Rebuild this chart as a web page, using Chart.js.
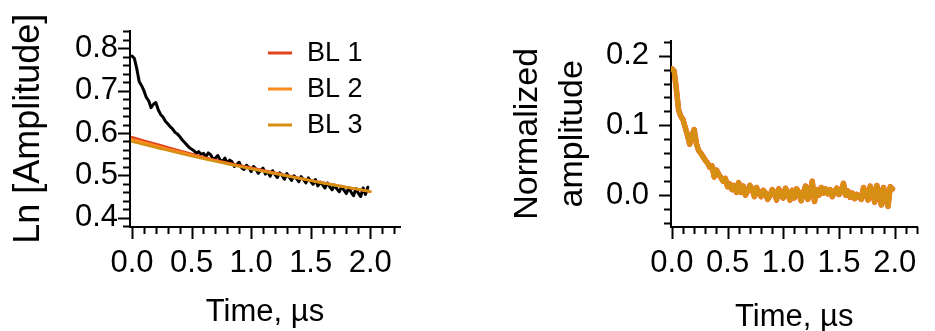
<!DOCTYPE html>
<html>
<head>
<meta charset="utf-8">
<script src="https://cdn.jsdelivr.net/npm/chart.js@4"></script>
<style>
  body { margin: 0; background: #fff; }
  #c1 { position: absolute; left: 0; top: 0; }
  #c2 { position: absolute; left: 500px; top: 0; }
</style>
</head>
<body>
<canvas id="c1" width="420" height="331"></canvas>
<canvas id="c2" width="435" height="331"></canvas>
<script>
/* Ln amplitude decay with baseline fits, and normalized amplitude */

// time axis (µs), one point every 0.02
const time = [
  0.00, 0.02, 0.04, 0.06, 0.08, 0.10, 0.12, 0.14, 0.16, 0.18,
  0.20, 0.22, 0.24, 0.26, 0.28, 0.30, 0.32, 0.34, 0.36, 0.38,
  0.40, 0.42, 0.44, 0.46, 0.48, 0.50, 0.52, 0.54, 0.56, 0.58,
  0.60, 0.62, 0.64, 0.66, 0.68, 0.70, 0.72, 0.74, 0.76, 0.78,
  0.80, 0.82, 0.84, 0.86, 0.88, 0.90, 0.92, 0.94, 0.96, 0.98,
  1.00, 1.02, 1.04, 1.06, 1.08, 1.10, 1.12, 1.14, 1.16, 1.18,
  1.20, 1.22, 1.24, 1.26, 1.28, 1.30, 1.32, 1.34, 1.36, 1.38,
  1.40, 1.42, 1.44, 1.46, 1.48, 1.50, 1.52, 1.54, 1.56, 1.58,
  1.60, 1.62, 1.64, 1.66, 1.68, 1.70, 1.72, 1.74, 1.76, 1.78,
  1.80, 1.82, 1.84, 1.86, 1.88, 1.90, 1.92, 1.94, 1.96, 1.98
];

// measured ln(amplitude), black trace
const lnAmp = [
  0.782, 0.776, 0.752, 0.722, 0.712, 0.700, 0.684, 0.676, 0.660, 0.668,
  0.672, 0.655, 0.644, 0.638, 0.628, 0.622, 0.615, 0.610, 0.602, 0.598,
  0.592, 0.584, 0.578, 0.572, 0.566, 0.562, 0.558, 0.552, 0.556, 0.550,
  0.552, 0.544, 0.553, 0.549, 0.538, 0.541, 0.547, 0.536, 0.533, 0.541,
  0.528, 0.536, 0.532, 0.521, 0.526, 0.531, 0.518, 0.514, 0.524, 0.519,
  0.509, 0.521, 0.515, 0.505, 0.512, 0.517, 0.503, 0.509, 0.498, 0.511,
  0.502, 0.495, 0.506, 0.500, 0.491, 0.504, 0.496, 0.488, 0.499, 0.493,
  0.485, 0.497, 0.490, 0.482, 0.494, 0.486, 0.479, 0.490, 0.475, 0.484,
  0.478, 0.470, 0.482, 0.473, 0.466, 0.477, 0.468, 0.461, 0.474, 0.465,
  0.457, 0.471, 0.460, 0.452, 0.469, 0.458, 0.450, 0.470, 0.455, 0.472
];

// baseline fits
const fitTime = [0.0, 0.2, 0.4, 0.6, 0.8, 1.0, 1.2, 1.4, 1.6, 1.8, 2.0];
const fitBL1 = [0.590, 0.574, 0.558, 0.543, 0.530, 0.518, 0.506, 0.494, 0.483, 0.472, 0.461];
const fitBL2 = [0.585, 0.570, 0.555, 0.541, 0.528, 0.516, 0.505, 0.493, 0.482, 0.472, 0.462];
const fitBL3 = [0.580, 0.566, 0.552, 0.539, 0.527, 0.515, 0.504, 0.493, 0.482, 0.472, 0.462];

// normalized amplitude (the three baselines overlap)
const normAmp = [
  0.181, 0.178, 0.152, 0.122, 0.113, 0.108, 0.097, 0.086, 0.073, 0.086,
  0.094, 0.074, 0.064, 0.060, 0.055, 0.050, 0.046, 0.040, 0.042, 0.026,
  0.036, 0.030, 0.025, 0.020, 0.024, 0.012, 0.016, 0.008, 0.014, 0.004,
  0.018, 0.004, 0.013, 0.000, 0.006, 0.014, 0.009, -0.002, 0.011, 0.003,
  -0.002, 0.007, 0.003, -0.006, -0.001, 0.008, 0.004, -0.007, 0.009, 0.000,
  -0.004, 0.010, 0.002, -0.007, 0.007, -0.004, 0.009, 0.004, -0.008, 0.003,
  0.013, -0.006, 0.003, 0.020, -0.009, 0.008, 0.000, 0.011, 0.003, 0.009,
  0.002, 0.008, -0.002, 0.005, 0.010, 0.001, 0.006, 0.017, 0.000, 0.006,
  -0.003, 0.003, -0.005, 0.001, -0.003, -0.006, 0.011, 0.001, -0.007, 0.013,
  0.004, -0.010, 0.014, 0.002, -0.014, 0.011, -0.004, -0.016, 0.012, 0.009
];

const labels = ['BL 1', 'BL 2', 'BL 3'];
const colors = ['#e2431e', '#ff8a1e', '#d58f12'];

Chart.defaults.font.family = "'Liberation Sans', Arial, sans-serif";
Chart.defaults.color = '#000';

function pts(xs, ys) {
  return xs.map((x, i) => ({x: x, y: ys[i]}));
}

function isMajor(v, step) {
  return Math.abs(v / step - Math.round(v / step)) < 1e-6;
}

// ticks: long at labelled values, short elsewhere
const tickMarks = {
  id: 'tickMarks',
  afterDraw(chart) {
    const ctx = chart.ctx;
    ctx.save();
    ctx.strokeStyle = '#000';
    ctx.lineWidth = 2;
    ['x', 'y'].forEach(id => {
      const s = chart.scales[id];
      s.ticks.forEach(t => {
        const len = t.label ? 12 : 7;
        const p = Math.round(s.getPixelForValue(t.value)) + 0.5;
        ctx.beginPath();
        if (id === 'x') {
          ctx.moveTo(p, s.top);
          ctx.lineTo(p, s.top + len);
        } else {
          ctx.moveTo(s.right, p);
          ctx.lineTo(s.right - len, p);
        }
        ctx.stroke();
      });
    });
    ctx.restore();
  }
};

// legend drawn inside the plot
const lineLegend = {
  id: 'lineLegend',
  afterDraw(chart, args, opts) {
    if (!opts.show) return;
    const ctx = chart.ctx;
    ctx.save();
    ctx.font = "27px 'Liberation Sans', Arial, sans-serif";
    ctx.textBaseline = 'middle';
    ctx.fillStyle = '#000';
    chart.data.datasets.filter(d => d.label.startsWith('BL')).forEach((d, i) => {
      const y = opts.y + i * opts.gap;
      ctx.strokeStyle = d.borderColor;
      ctx.lineWidth = 3;
      ctx.beginPath();
      ctx.moveTo(opts.x, y);
      ctx.lineTo(opts.x + 24, y);
      ctx.stroke();
      ctx.fillText(d.label, opts.x + 39, y + 1);
    });
    ctx.restore();
  }
};

function xScale(min, max, titlePad) {
  return {
    type: 'linear',
    min: min,
    max: max,
    afterFit: s => { s.height = 104; },
    grid: {display: false, drawTicks: false},
    border: {color: '#000', width: 2},
    ticks: {
      stepSize: 0.1,
      includeBounds: false,
      autoSkip: false,
      maxRotation: 0,
      minRotation: 0,
      padding: 18,
      font: {size: 31},
      callback: v => isMajor(v, 0.5) ? v.toFixed(1) : ''
    },
    title: {
      display: true,
      text: 'Time, µs',
      font: {size: 31, lineHeight: 1},
      padding: {top: 0, bottom: titlePad}
    }
  };
}

function yScale(min, max, width, pad, title, titleFont, titlePad) {
  return {
    min: min,
    max: max,
    afterFit: s => { s.width = width; },
    grid: {display: false, drawTicks: false},
    border: {color: '#000', width: 2},
    ticks: {
      stepSize: 0.02,
      includeBounds: false,
      autoSkip: false,
      padding: pad,
      font: {size: 31},
      callback: v => isMajor(v, 0.1) ? v.toFixed(1) : ''
    },
    title: {
      display: true,
      text: title,
      font: titleFont,
      padding: {top: titlePad, bottom: 0}
    }
  };
}

const lineBase = {pointRadius: 0, fill: false, borderJoinStyle: 'round', borderCapStyle: 'round'};

new Chart(document.getElementById('c1'), {
  type: 'line',
  data: {
    datasets: [
      Object.assign({label: 'data', data: pts(time, lnAmp), borderColor: '#000', borderWidth: 3, order: 4}, lineBase),
      Object.assign({label: labels[0], data: pts(fitTime, fitBL1), borderColor: colors[0], borderWidth: 2.5, tension: 0.4, order: 3}, lineBase),
      Object.assign({label: labels[1], data: pts(fitTime, fitBL2), borderColor: colors[1], borderWidth: 2.5, tension: 0.4, order: 2}, lineBase),
      Object.assign({label: labels[2], data: pts(fitTime, fitBL3), borderColor: colors[2], borderWidth: 2.5, tension: 0.4, order: 1}, lineBase)
    ]
  },
  options: {
    responsive: false,
    animation: false,
    layout: {padding: {left: 0, top: 16, right: 20, bottom: 0}},
    plugins: {
      legend: {display: false},
      tooltip: {enabled: false},
      lineLegend: {show: true, x: 268, y: 53, gap: 36}
    },
    scales: {
      x: xScale(-0.017, 2.25, 3),
      y: yScale(0.378, 0.842, 130, 12, 'Ln [Amplitude]', {size: 36, lineHeight: 1}, 11)
    }
  },
  plugins: [tickMarks, lineLegend]
});

new Chart(document.getElementById('c2'), {
  type: 'line',
  data: {
    datasets: [
      Object.assign({label: labels[0], data: pts(time, normAmp), borderColor: colors[0], borderWidth: 5.5, order: 3}, lineBase),
      Object.assign({label: labels[1], data: pts(time, normAmp), borderColor: colors[1], borderWidth: 5, order: 2}, lineBase),
      Object.assign({label: labels[2], data: pts(time, normAmp), borderColor: colors[2], borderWidth: 4.5, order: 1}, lineBase)
    ]
  },
  options: {
    responsive: false,
    animation: false,
    layout: {padding: {left: 0, top: 16, right: 0, bottom: 0}},
    plugins: {
      legend: {display: false},
      tooltip: {enabled: false}
    },
    scales: {
      x: xScale(-0.008, 2.204, -2),
      y: yScale(-0.0456, 0.2215, 171, 22, ['Normalized', 'amplitude'], {size: 34, lineHeight: 1.32}, 5)
    }
  },
  plugins: [tickMarks]
});
</script>
</body>
</html>
